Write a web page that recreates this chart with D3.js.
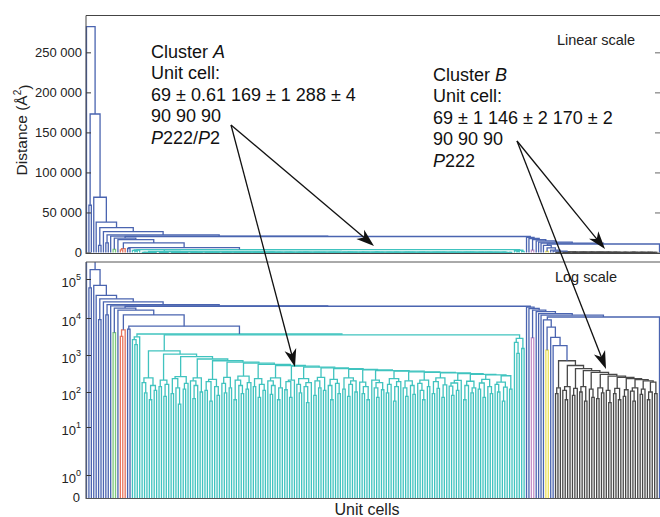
<!DOCTYPE html>
<html>
<head>
<meta charset="utf-8">
<script src="https://cdn.jsdelivr.net/npm/d3@7"></script>
<style>
  body { margin: 0; background: #fff; }
  svg { font-family: "Liberation Sans", Arial, sans-serif; }
</style>
</head>
<body>
<svg id="chart" width="660" height="517"></svg>
<script>
// Dendrogram in leaf order: each value is the height (Å²) at which a leaf
// merges with the next leaf. The tree is rebuilt from these by splitting at the max.
const outlierGaps = [282000, 59000, 173000, 69000, 38000, 9000, 31000, 26000, 12000, 22000];
const greenGaps = [4000];
const redGaps = [3200, 4800];
const pinkGaps = [2900];
const yellowGaps = [1350];

const clusterAGaps = [
  2600, 1900, 3100, 3700,
  180, 95, 240, 60, 150, 110, 1300,
  140, 210, 75, 160, 1050,
  90, 230, 130, 45, 260, 120, 170, 900,
  200, 65, 150, 240, 100, 780,
  110, 190, 55, 220, 140, 80, 700,
  170, 95, 250, 130, 640,
  60, 210, 150, 90, 270, 120, 180, 600,
  140, 230, 70, 160, 110, 560,
  200, 85, 150, 240, 60, 130, 520,
  115, 190, 70, 210, 500,
  160, 95, 230, 140, 50, 180, 470,
  80, 200, 130, 250, 110, 450,
  150, 60, 220, 170, 90, 430,
  120, 240, 75, 160, 200, 100, 410,
  185, 90, 140, 60, 395,
  210, 130, 70, 180, 115, 380,
  95, 160, 230, 55, 140, 190, 365,
  130, 75, 200, 150, 85, 350,
  170, 110, 60, 210, 140, 340,
  90, 190, 125, 240, 70, 155, 330,
  145, 80, 175, 110, 205, 315,
  60, 150, 195, 95, 130, 300,
  120, 175, 70, 220, 140, 90, 290,
  160, 100, 185, 55, 135, 275,
  120, 3500,
  2200, 1100, 2800, 1500
];

const clusterBGaps = [
  90, 130, 700,
  110, 60, 140, 520,
  80, 125, 430,
  100, 140, 55, 380,
  120, 70, 340,
  65, 130, 95, 300,
  110, 50, 270,
  90, 125, 60, 250,
  75, 115, 230,
  105, 55, 130, 215,
  85, 120, 200,
  60, 100, 185,
  90
];

const segmentGroups = ['out', 'green', 'out', 'red', 'out', 'A', 'out', 'pink', 'out', 'yellow', 'out', 'B', 'out'];
const segmentGaps = [outlierGaps, greenGaps, [], redGaps, [5000], clusterAGaps, [19000], pinkGaps,
  [14500, 13000, 11800], yellowGaps, [3000], clusterBGaps, []];
const joinGaps = [20500, 18000, 16000, 12000, 6000, 20000, 17500, 16000, 8900, 5700, 1800, 10600];

const linearTicks = [0, 50000, 100000, 150000, 200000, 250000];
const logTickExp = [0, 1, 2, 3, 4, 5];

const colors = {
  out: '#4a64b0', A: '#40c3bf', B: '#484848', red: '#e8745c',
  green: '#7cc77c', pink: '#c490c6', yellow: '#ece05a'
};

// ---- build leaves + merge heights
const leafGroup = [], gaps = [];
segmentGroups.forEach((g, s) => {
  const inner = segmentGaps[s];
  for (let i = 0; i <= inner.length; i++) {
    leafGroup.push(g);
    if (i < inner.length) gaps.push(inner[i]);
  }
  if (s < joinGaps.length) gaps.push(joinGaps[s]);
});
const N = leafGroup.length;

const nodes = [];
function build(l, r) {
  if (l === r) return { x: l, h: 0 };
  let k = l;
  for (let i = l; i < r; i++) if (gaps[i] > gaps[k]) k = i;
  const a = build(l, k), b = build(k + 1, r);
  let g = leafGroup[l];
  for (let i = l; i <= r; i++) if (leafGroup[i] !== g) { g = 'out'; break; }
  const n = { x: (a.x + b.x) / 2, h: gaps[k], kids: [a, b], group: g };
  nodes.push(n);
  return n;
}
build(0, N - 1);

// ---- scales
const svg = d3.select('#chart');
const left = 86.5, right = 659.5;
const x = d3.scaleLinear().domain([0, N - 1]).range([left, right]);
const yLin = d3.scaleLinear().domain([0, 296000]).range([252.5, 15.5]);
const zeroExp = -0.55;
const logPos = d3.scaleLinear().domain([zeroExp, 0, 1, 2, 3, 4, 5]).range([498, 475, 427, 392, 355, 318, 279]);
const yLog = v => v > 0 ? logPos(Math.log10(v)) : logPos(zeroExp);

const defs = svg.append('defs');
defs.append('clipPath').attr('id', 'clipTop').append('rect')
  .attr('x', 85).attr('y', 15).attr('width', 576).attr('height', 239);
defs.append('clipPath').attr('id', 'clipBot').append('rect')
  .attr('x', 85).attr('y', 262).attr('width', 576).attr('height', 237);

function drawTree(y, clip) {
  svg.append('g').attr('clip-path', `url(#${clip})`)
    .selectAll('path').data(nodes).enter().append('path')
    .attr('d', d => `M${x(d.kids[0].x)},${y(d.kids[0].h)}V${y(d.h)}H${x(d.kids[1].x)}V${y(d.kids[1].h)}`)
    .attr('fill', 'none')
    .attr('stroke', d => colors[d.group])
    .attr('stroke-width', 1.3);
}
drawTree(yLin, 'clipTop');
drawTree(yLog, 'clipBot');

// ---- axes
const fmt = d3.formatLocale({ decimal: '.', thousands: ' ', grouping: [3], currency: ['', ''] }).format(',');

const axTop = svg.append('g').attr('transform', `translate(${left - 0.5},0)`)
  .call(d3.axisLeft(yLin).tickValues(linearTicks).tickFormat(fmt).tickSizeInner(-5).tickSizeOuter(0).tickPadding(4));
axTop.select('.domain').remove();
axTop.selectAll('line').attr('stroke', '#333');
axTop.selectAll('text').attr('font-size', 13).attr('fill', '#222');

svg.append('g').attr('transform', `translate(${right + 0.5},0)`)
  .call(d3.axisRight(yLin).tickValues(linearTicks).tickFormat('').tickSizeInner(-5).tickSizeOuter(0))
  .call(g => g.select('.domain').remove())
  .selectAll('line').attr('stroke', '#666');

const axBot = svg.append('g').attr('transform', `translate(${left - 0.5},0)`)
  .call(d3.axisLeft(logPos).tickValues([zeroExp].concat(logTickExp)).tickFormat('').tickSizeInner(-5).tickSizeOuter(0).tickPadding(4));
axBot.select('.domain').remove();
axBot.selectAll('line').attr('stroke', '#333');
axBot.selectAll('.tick').each(function (d) {
  const t = d3.select(this).append('text').attr('fill', '#222').attr('font-size', 13)
    .attr('text-anchor', 'end').attr('x', -5).attr('dy', '0.36em');
  if (d === zeroExp) { t.text('0').attr('x', -6).attr('dy', '0.3em'); return; }
  t.attr('dy', '0.55em');
  t.append('tspan').text('10');
  t.append('tspan').text(d).attr('font-size', 9).attr('dy', '-0.75em');
});

// frames
const frame = svg.append('g').attr('fill', 'none').attr('stroke-width', 1);
frame.append('path').attr('d', 'M86,15.5H660M86,253.5H660M86,15.5V254').attr('stroke', '#444');
frame.append('path').attr('d', 'M86,262H660M86,498.5H660M86,262V499').attr('stroke', '#555');

// ---- labels
svg.append('text').attr('transform', 'translate(27,130) rotate(-90)').attr('text-anchor', 'middle')
  .attr('font-size', 15.5).attr('fill', '#222')
  .call(t => { t.append('tspan').text('Distance (Å'); t.append('tspan').text('2').attr('font-size', 10).attr('dy', '-0.6em'); t.append('tspan').text(')').attr('dy', '0.6em'); });
svg.append('text').attr('x', 367).attr('y', 515).attr('text-anchor', 'middle').attr('font-size', 16).attr('fill', '#222').text('Unit cells');
svg.append('text').attr('x', 596).attr('y', 45).attr('text-anchor', 'middle').attr('font-size', 14.5).attr('fill', '#222').text('Linear scale');
svg.append('text').attr('x', 586).attr('y', 282).attr('text-anchor', 'middle').attr('font-size', 14.5).attr('fill', '#222').text('Log scale');

function block(x0, y0, lines) {
  const t = svg.append('text').attr('font-size', 18).attr('fill', '#111');
  lines.forEach((ln, i) => {
    const row = t.append('tspan').attr('x', x0).attr('y', y0 + i * 21.4);
    ln.forEach(([s, it], j) => (j === 0 ? row : t.append('tspan')).text(s).attr('font-style', it ? 'italic' : 'normal'));
  });
}
block(151, 58, [[['Cluster '], ['A', 1]], [['Unit cell:']], [['69 ± 0.61 169 ± 1 288 ± 4']], [['90 90 90']], [['P', 1], ['222/'], ['P', 1], ['2']]]);
block(433, 81, [[['Cluster '], ['B', 1]], [['Unit cell:']], [['69 ± 1 146 ± 2 170 ± 2']], [['90 90 90']], [['P', 1], ['222']]]);

// ---- arrows
function arrow(x0, y0, x1, y1) {
  const dx = x1 - x0, dy = y1 - y0, len = Math.hypot(dx, dy);
  const ux = dx / len, uy = dy / len, nx = -uy, ny = ux;
  const L = 18, Wd = 6, notch = 5;
  svg.append('line').attr('x1', x0).attr('y1', y0).attr('x2', x1 - ux * 8).attr('y2', y1 - uy * 8)
    .attr('stroke', '#111').attr('stroke-width', 1.3);
  svg.append('path').attr('fill', '#111').attr('d',
    `M${x1},${y1}L${x1 - ux * L + nx * Wd},${y1 - uy * L + ny * Wd}L${x1 - ux * (L - notch)},${y1 - uy * (L - notch)}L${x1 - ux * L - nx * Wd},${y1 - uy * L - ny * Wd}Z`);
}
arrow(231, 125, 374, 246);
arrow(231, 125, 295, 367);
arrow(517, 141, 605, 249);
arrow(517, 141, 606, 369);
</script>
</body>
</html>
